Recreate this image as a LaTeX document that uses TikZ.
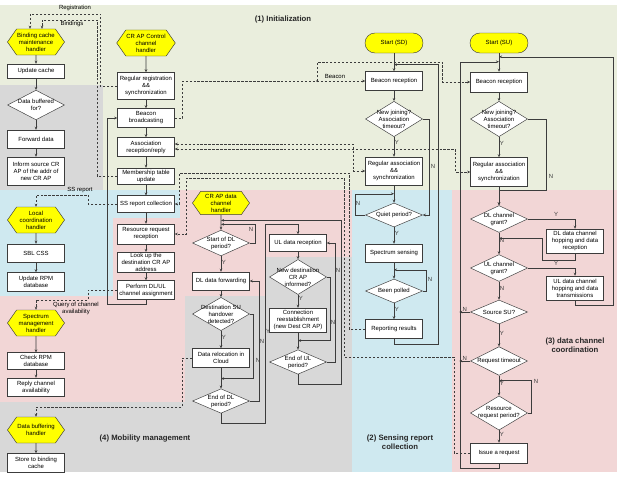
\documentclass[tikz,border=0pt]{standalone}
\usepackage{fontspec}
\setmainfont{Liberation Sans}
\usepackage{xcolor}
\definecolor{initgreen}{RGB}{234,238,221}
\definecolor{mobgray}{RGB}{216,216,216}
\definecolor{sensblue}{RGB}{207,233,240}
\definecolor{chanpink}{RGB}{242,214,214}
\definecolor{handyellow}{RGB}{255,255,0}
\definecolor{linegray}{RGB}{60,60,60}
\usetikzlibrary{arrows.meta, positioning, shapes.geometric, shapes.symbols, calc}
\newcommand{\dfont}{\fontsize{5.1}{6.0}\selectfont}
\newcommand{\secfont}{\fontsize{6.6}{7.8}\selectfont\bfseries}

\begin{document}
\begin{tikzpicture}[x=0.03cm, y=-0.03cm,
  procbox/.style={draw=linegray, fill=white, minimum width=1.71cm, minimum height=0.54cm,
                  align=center, inner sep=0.5pt, font=\dfont},
  decision/.style={diamond, draw=linegray, fill=white, aspect=1.5, minimum width=1.71cm,
                   minimum height=0.72cm, align=center, inner sep=-1.5pt, font=\dfont},
  handler/.style={signal, signal to=east and west, signal pointer angle=110, draw=linegray,
                  fill=handyellow, minimum width=1.71cm, minimum height=0.78cm,
                  align=center, inner sep=0.5pt, font=\dfont},
  startbox/.style={draw=linegray, fill=handyellow, rounded corners=0.3cm,
                   minimum width=1.74cm, minimum height=0.6cm, font=\dfont},
  flow/.style={-{Stealth[length=2.6pt,width=2.2pt]}, draw=linegray, line width=0.45pt},
  msg/.style={flow, dash pattern=on 2pt off 1.4pt},
  msgboth/.style={msg, {Stealth[length=2.6pt,width=2.2pt]}-{Stealth[length=2.6pt,width=2.2pt]}},
  yn/.style={font=\dfont, inner sep=0.6pt, text=linegray},
  lbl/.style={font=\dfont, inner sep=0pt},
  seclbl/.style={font=\secfont, align=center, text=black!85}
]
\useasboundingbox (0,0) rectangle (622,477);

% --- Background areas ---
\fill[white] (0,0) rectangle (622,477);
\fill[initgreen] (0,5) rectangle (617,190);
\fill[mobgray] (0,85) rectangle (103,190);
\fill[chanpink] (113,190) rectangle (352,296);
\fill[sensblue] (0,190) rectangle (113,296);
\fill[sensblue] (113,190) rectangle (180,218);
\fill[chanpink] (0,296) rectangle (185,402);
\fill[mobgray] (265,257) rectangle (352,296);
\fill[mobgray] (185,296) rectangle (352,472);
\fill[mobgray] (0,402) rectangle (185,472);
\fill[sensblue] (352,190) rectangle (452,472);
\fill[chanpink] (452,190) rectangle (617,472);

\node[seclbl] (sec1) at (283,20) {(1) Initialization};
\node[seclbl] (sec2) at (400,442) {(2) Sensing report\\collection};
\node[seclbl] (sec3) at (575,345) {(3) data channel\\coordination};
\node[seclbl] (sec4) at (145,439) {(4) Mobility management};

% --- Left column: handlers ---
\node[handler] (bch) at (36,42) {Binding cache\\maintenance\\handler};
\node[procbox, minimum height=0.42cm] (upd) at (36,71) {Update cache};
\node[decision] (buf) at (36,105) {Data buffered\\for?};
\node[procbox] (fwd) at (36,139) {Forward data};
\node[procbox, minimum height=0.84cm] (inf) at (36,171) {Inform source CR\\AP of the addr of\\new CR AP};
\node[handler] (loc) at (36,220) {Local\\coordination\\handler};
\node[procbox] (sbl) at (36,253) {SBL CSS};
\node[procbox, minimum height=0.57cm] (rpm) at (36,282) {Update RPM\\database};
\node[handler] (spm) at (36,323) {Spectrum\\management\\handler};
\node[procbox, minimum height=0.5cm] (chk) at (36,361) {Check RPM\\database};
\node[procbox] (rep) at (36,387) {Reply channel\\availability};
\node[handler] (dbh) at (36,430) {Data buffering\\handler};
\node[procbox, minimum height=0.57cm] (sto) at (36,463) {Store to binding\\cache};

\draw[flow] (bch) -- (upd);
\draw[flow] (upd) -- (buf);
\draw[flow] (buf) -- (fwd);
\draw[flow] (fwd) -- (inf);
\draw[flow] (loc) -- (sbl);
\draw[flow] (sbl) -- (rpm);
\draw[flow] (spm) -- (chk);
\draw[flow] (chk) -- (rep);
\draw[flow] (dbh) -- (sto);

% --- CR AP control channel ---
\node[handler] (ctl) at (146,43) {CR AP Control\\channel\\handler};
\node[procbox, minimum height=0.81cm] (reg) at (146,86) {Regular registration\\\&\&\\synchronization};
\node[procbox, minimum height=0.57cm] (bcn) at (146,118) {Beacon\\broadcasting};
\node[procbox, minimum height=0.57cm] (asr) at (146,147) {Association\\reception/reply};
\node[procbox, minimum height=0.48cm] (mem) at (146,176) {Membership table\\update};
\node[procbox, minimum height=0.5cm] (ssc) at (146,204) {SS report collection};
\node[procbox, minimum height=0.6cm] (rrr) at (146,234) {Resource request\\reception};
\node[procbox, minimum height=0.57cm] (lku) at (146,262) {Look up the\\destination CR AP\\address};
\node[procbox, minimum height=0.57cm] (pfm) at (146,290) {Perform DL/UL\\channel assignment};

\draw[flow] (ctl) -- (reg);
\draw[flow] (reg) -- (bcn);
\draw[flow] (bcn) -- (asr);
\draw[flow] (asr) -- (mem);
\draw[flow] (mem) -- (ssc);
\draw[flow] (ssc) -- (rrr);
\draw[flow] (rrr) -- (lku);
\draw[flow] (lku) -- (pfm);
\draw[flow] (pfm.south) -- ++(0,5) -| ([xshift=-0.3cm]bcn.west) -- (bcn.west);

% --- CR AP data channel: DL side ---
\node[handler, minimum height=0.7cm] (dch) at (221,203) {CR AP data\\channel\\handler};
\node[decision] (sdl) at (221,243) {Start of DL\\period?};
\node[procbox] (dlf) at (221,281) {DL data forwarding};
\node[decision, inner sep=-3pt] (hod) at (221,314) {Destination SU\\handover\\detected?};
\node[procbox, minimum height=0.57cm] (rel) at (221,358) {Data relocation in\\Cloud};
\node[decision] (edl) at (221,401) {End of DL\\period?};

\draw[flow] (dch) -- (sdl);
\draw[flow] (sdl) -- node[yn, right, pos=0.4] (ySdl) {Y} (dlf);
\draw[flow] (sdl.east) -- ++(6,0) |- ([yshift=0.165cm]sdl.north);
\node[yn] (nSdl) at (251,229) {N};
\draw[flow] (dlf) -- (hod);
\draw[flow] (hod) -- node[yn, right, pos=0.35] (yHod) {Y} (rel);
\draw[flow] (hod.east) -- ++(4,0) |- ([yshift=0.3cm]edl.north);
\node[yn] (nHod) at (258,360) {N};
\draw[flow] (rel) -- (edl);
\draw[flow] (edl.east) -- ++(10,0) |- (dlf.east);
\node[yn] (nEdl) at (262,341) {N};

% --- CR AP data channel: UL side ---
\node[procbox, minimum height=0.51cm] (ulr) at (298,243) {UL data reception};
\node[decision, inner sep=-3pt] (nda) at (298,277) {New destination\\CR AP\\informed?};
\node[procbox, minimum height=0.72cm] (con) at (298,320) {Connection\\reestablishment\\(new Dest CR AP)};
\node[decision] (eul) at (298,362) {End of UL\\period?};

\draw[flow] (edl.south) -- ++(0,10) -- ++(44,0) |- ([yshift=0.3cm]ulr.north) -- (ulr.north);
\node[yn] (yEdl) at (268,331) {Y};
\draw[flow] (ulr) -- (nda);
\draw[flow] (nda) -- node[yn, right, pos=0.3] (yNda) {Y} (con);
\draw[flow] (nda.east) -- ++(4,0) |- ([yshift=0.27cm]eul.north);
\node[yn] (nNda) at (333,322) {N};
\draw[flow] (con) -- (eul);
\draw[flow] (eul.east) -- ++(9,0) |- (ulr.east);
\node[yn] (nEul) at (338,270) {N};
\draw[flow] (eul.south) -- ++(0,10) -- ++(43,0) |- ([yshift=0.285cm]sdl.north);

% --- Sensing device (SD) ---
\node[startbox] (ssd) at (394,43) {Start (SD)};
\node[procbox, minimum height=0.57cm] (brd) at (394,81) {Beacon reception};
\node[decision] (njd) at (394,119) {New joining?\\Association\\timeout?};
\node[procbox, minimum height=0.84cm] (rad) at (394,171) {Regular association\\\&\&\\synchronization};
\node[decision] (qpd) at (394,215) {Quiet period?};
\node[procbox] (sss) at (394,253) {Spectrum sensing};
\node[decision] (bpd) at (394,291) {Been polled};
\node[procbox, minimum height=0.57cm] (rrs) at (394,329) {Reporting results};

\draw[flow] (ssd) -- (brd);
\draw[flow] (brd) -- (njd);
\draw[flow] (njd) -- node[yn, right, pos=0.3] (yNjd) {Y} (rad);
\draw[flow] (njd.east) -- ++(7,0) |- (qpd.east);
\node[yn] (nNjd) at (433,166) {N};
\draw[flow] (rad) -- (qpd);
\draw[flow] (qpd.west) -- ++(-10,0) |- ([yshift=0.27cm]qpd.north);
\node[yn] (nQpd) at (358,203) {N};
\draw[flow] (qpd) -- node[yn, right, pos=0.4] (yQpd) {Y} (sss);
\draw[flow] (sss) -- (bpd);
\draw[flow] (bpd.east) -- ++(4,0) |- ([yshift=0.27cm]bpd.north);
\node[yn] (nBpd) at (430,279) {N};
\draw[flow] (bpd) -- node[yn, right, pos=0.4] (yBpd) {Y} (rrs);
\draw[flow] (rrs.south) -- ++(0,6) -- ++(44,0) |- ([yshift=0.2cm]brd.north);

% --- Secondary user (SU) ---
\node[startbox] (ssu) at (499,43) {Start (SU)};
\node[procbox, minimum height=0.6cm] (bru) at (499,82) {Beacon reception};
\node[decision] (nju) at (499,119) {New joining?\\Association\\timeout?};
\node[procbox, minimum height=0.87cm] (rau) at (499,172) {Regular association\\\&\&\\synchronization};
\node[decision] (dlg) at (499,219) {DL channel\\grant?};
\node[decision] (ulg) at (499,268) {UL channel\\grant?};
\node[decision] (src) at (499,312) {Source SU?};
\node[decision] (rto) at (499,361) {Request timeout};
\node[decision] (rrp) at (499,413) {Resource\\request period?};
\node[procbox, minimum height=0.6cm] (iss) at (499,453) {Issue a request};
\node[procbox, minimum height=0.72cm] (dlh) at (575,241) {DL data channel\\hopping and data\\reception};
\node[procbox, minimum height=0.72cm] (ulh) at (575,288) {UL data channel\\hopping and data\\transmissions};

\draw[flow] (ssu) -- (bru);
\draw[flow] (bru) -- (nju);
\draw[flow] (nju) -- node[yn, right, pos=0.3] (yNju) {Y} (rau);
\draw[flow] (nju.east) -- ++(19,0) |- ([yshift=0.45cm]dlg.north) -- (dlg.north);
\node[yn] (nNju) at (551,176) {N};
\draw[flow] (rau) -- (dlg);
\draw[flow] (dlg.east) -| (dlh.north);
\node[yn] (yDlg) at (556,214) {Y};
\draw[flow] (dlg) -- node[yn, right, pos=0.35] (nDlg) {N} (ulg);
\draw[flow] (dlh.south) -- ++(0,7) -- ++(-33,0) |- ([yshift=0.48cm]ulg.north);
\draw[flow] (ulg.east) -| (ulh.north);
\node[yn] (yUlg) at (556,263) {Y};
\draw[flow] (ulg) -- node[yn, right, pos=0.4] (nUlg) {N} (src);
\draw[flow] (ulh.south) -- ++(0,5) -- ++(38,0) |- ([yshift=0.45cm]bru.north);
\draw[flow] (src) -- node[yn, right, pos=0.4] (ySrc) {Y} (rto);
\draw[flow] (src.west) -- node[yn, above] (nSrc) {N} ++(-11,0);
\draw[flow] (rto) -- node[yn, right, pos=0.4] (yRto) {Y} (rrp);
\draw[flow] (rto.west) -- node[yn, above] (nRto) {N} ++(-11,0);
\draw[flow] (rrp.east) -- ++(4,0) |- ([yshift=0.45cm]rrp.north);
\node[yn] (nRrp) at (536,381) {N};
\draw[flow] (rrp) -- node[yn, right, pos=0.35] (yRrp) {Y} (iss);
\draw[flow] (iss.south) -- ++(0,5) -- ++(-39,0) |- ([yshift=0.3cm]bru.north);

% --- Messages between entities ---
\coordinate (bchin) at ([xshift=-0.18cm]bch.north);
\coordinate (bchin2) at ([xshift=0.18cm]bch.north);
\draw[msg] (reg.west) -- ++(-17,0) |- ([yshift=0.45cm]bchin) -- (bchin);
\node[lbl] (tReg) at (75,8) {Registration};
\draw[msg] (mem.west) -- ++(-20,0) |- ([yshift=0.27cm]bchin2) -- (bchin2);
\node[lbl] (tBind) at (72,24) {Bindings};

\draw[msg] (bcn.east) -- ++(8,0) |- (brd.west);
\node[lbl] (tBeacon) at (335,76) {Beacon};
\coordinate (bsplit) at ([xshift=-1.44cm]brd.west);
\fill[linegray] (bsplit) circle (0.9pt);
\draw[msg] (bsplit) -- ++(0,-19) -- ++(125,0) |- (bru.west);

\draw[msgboth] ([yshift=0.09cm]asr.east) -| ([xshift=-0.36cm]rad.west) -- (rad.west);
\draw[msgboth] ([yshift=-0.06cm]asr.east) -| ([xshift=-0.45cm]rau.west) -- (rau.west);

\draw[msg] (rrs.west) -- ++(-16,0) |- ([xshift=0.15cm,yshift=0.93cm]ssc.east) |- (ssc.east);
\draw[msg] (iss.west) -- ++(-16,0) -- ++(0,-96) -- ++(-110,0)
      |- ([xshift=0.36cm,yshift=1.68cm]rrr.east) |- (rrr.east);

\draw[msg] (ssc.west) -- ++(-29,0) |- ([yshift=0.36cm]loc.north) -- (loc.north);
\node[lbl] (tSS) at (80,190) {SS report};
\draw[msg] (pfm.west) -- ++(-29,0) |- ([yshift=0.3cm]spm.north) -- (spm.north);
\node[lbl, align=center] (tQuery) at (76,308) {Query of channel\\availability};
\draw[msg] (rel.west) -- ++(-10,0) |- ([yshift=0.3cm]dbh.north) -- (dbh.north);

\end{tikzpicture}
\end{document}
